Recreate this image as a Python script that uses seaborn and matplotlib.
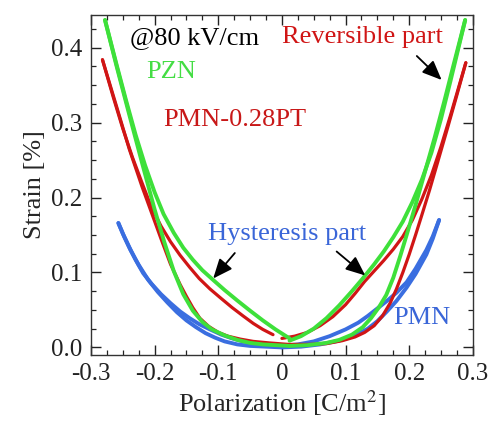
import numpy as np
import pandas as pd
import matplotlib
matplotlib.use("Agg")
import matplotlib.pyplot as plt
import seaborn as sns

# ---------------- data ----------------
# PZN (green)
pzn_outer_left_P = [-0.278, -0.26, -0.245, -0.23, -0.215, -0.20, -0.186, -0.17, -0.155, -0.14, -0.125,
                    -0.108, -0.09, -0.07, -0.05, -0.03, -0.01, 0.012]
pzn_outer_left_S = [0.437, 0.378, 0.330, 0.284, 0.243, 0.207, 0.178, 0.153, 0.133, 0.117, 0.103,
                    0.090, 0.0765, 0.0625, 0.049, 0.036, 0.024, 0.012]
pzn_inner_left_P = [-0.278, -0.26, -0.24, -0.22, -0.20, -0.185, -0.17, -0.155, -0.14, -0.125, -0.11,
                    -0.09, -0.07, -0.05, -0.03, -0.01, 0.012]
pzn_inner_left_S = [0.437, 0.376, 0.311, 0.247, 0.184, 0.141, 0.102, 0.071, 0.049, 0.034, 0.024,
                    0.016, 0.010, 0.006, 0.004, 0.003, 0.002]
pzn_outer_right_P = [0.012, 0.03, 0.05, 0.07, 0.09, 0.11, 0.127, 0.145, 0.16, 0.175, 0.19, 0.205,
                     0.22, 0.235, 0.25, 0.265, 0.288]
pzn_outer_right_S = [0.009, 0.015, 0.025, 0.039, 0.056, 0.075, 0.092, 0.111, 0.128, 0.147, 0.168, 0.194,
                     0.224, 0.260, 0.305, 0.356, 0.437]
pzn_inner_right_P = [0.012, 0.04, 0.07, 0.09, 0.11, 0.127, 0.14, 0.152, 0.164, 0.175, 0.186, 0.196,
                     0.21, 0.225, 0.24, 0.255, 0.27, 0.288]
pzn_inner_right_S = [0.002, 0.003, 0.006, 0.010, 0.017, 0.027, 0.039, 0.053, 0.070, 0.093, 0.122, 0.150,
                     0.190, 0.235, 0.280, 0.328, 0.378, 0.437]

# PMN-0.28PT (red)
pmnpt_outer_left_P = [-0.282, -0.265, -0.25, -0.235, -0.22, -0.205, -0.19, -0.175, -0.16, -0.145, -0.13,
                      -0.113, -0.095, -0.078, -0.061, -0.045, -0.03, -0.014]
pmnpt_outer_left_S = [0.384, 0.334, 0.292, 0.254, 0.220, 0.187, 0.162, 0.141, 0.123, 0.107, 0.092,
                      0.078, 0.065, 0.053, 0.042, 0.032, 0.024, 0.017]
pmnpt_inner_left_P = [-0.282, -0.26, -0.24, -0.22, -0.205, -0.19, -0.175, -0.16, -0.15, -0.14, -0.129,
                      -0.115, -0.10, -0.085, -0.065, -0.045, -0.02, 0.01]
pmnpt_inner_left_S = [0.384, 0.322, 0.265, 0.215, 0.180, 0.145, 0.111, 0.084, 0.068, 0.053, 0.039,
                      0.028, 0.020, 0.015, 0.011, 0.008, 0.006, 0.004]
pmnpt_outer_right_P = [0.0, 0.02, 0.04, 0.06, 0.08, 0.10, 0.115, 0.13, 0.145, 0.16, 0.175, 0.19,
                       0.205, 0.22, 0.235, 0.25, 0.265, 0.289]
pmnpt_outer_right_S = [0.012, 0.015, 0.020, 0.029, 0.041, 0.057, 0.072, 0.088, 0.102, 0.116, 0.131, 0.148,
                       0.170, 0.198, 0.230, 0.268, 0.310, 0.380]
pmnpt_inner_right_P = [0.01, 0.04, 0.07, 0.095, 0.115, 0.13, 0.145, 0.158, 0.17, 0.18, 0.19, 0.20,
                       0.21, 0.22, 0.232, 0.245, 0.26, 0.275, 0.289]
pmnpt_inner_right_S = [0.004, 0.004, 0.005, 0.009, 0.014, 0.020, 0.029, 0.042, 0.059, 0.078, 0.100, 0.124,
                       0.150, 0.177, 0.210, 0.248, 0.292, 0.337, 0.380]

# PMN (blue)
pmn_left_a_P = [-0.257, -0.25, -0.24, -0.23, -0.218, -0.205, -0.19, -0.175, -0.16, -0.145, -0.13,
                -0.113, -0.095, -0.078, -0.061, -0.04, -0.02, 0.0, 0.02]
pmn_left_a_S = [0.166, 0.152, 0.134, 0.117, 0.099, 0.085, 0.071, 0.059, 0.048, 0.039, 0.031,
                0.024, 0.017, 0.012, 0.008, 0.005, 0.003, 0.002, 0.003]
pmn_left_b_P = [-0.257, -0.248, -0.238, -0.225, -0.21, -0.195, -0.18, -0.165, -0.15, -0.135, -0.12,
                -0.105, -0.09, -0.07, -0.05, -0.025, 0.0]
pmn_left_b_S = [0.166, 0.148, 0.130, 0.110, 0.090, 0.074, 0.060, 0.047, 0.036, 0.027, 0.019,
                0.013, 0.008, 0.004, 0.002, 0.001, 0.000]
pmn_right_a_P = [0.0, 0.025, 0.05, 0.075, 0.10, 0.12, 0.135, 0.15, 0.165, 0.18, 0.196, 0.21,
                 0.227, 0.237, 0.247]
pmn_right_a_S = [0.002, 0.004, 0.008, 0.015, 0.024, 0.033, 0.042, 0.052, 0.062, 0.073, 0.087, 0.105,
                 0.130, 0.148, 0.170]
pmn_right_b_P = [0.0, 0.03, 0.06, 0.09, 0.115, 0.135, 0.15, 0.165, 0.18, 0.196, 0.21, 0.227,
                 0.237, 0.247]
pmn_right_b_S = [0.000, 0.001, 0.004, 0.009, 0.016, 0.025, 0.035, 0.048, 0.062, 0.080, 0.098, 0.124,
                 0.145, 0.170]

x_ticks = [-0.3, -0.2, -0.1, 0.0, 0.1, 0.2, 0.3]
x_tick_labels = ["-0.3", "-0.2", "-0.1", "0", "0.1", "0.2", "0.3"]
y_ticks = [0.0, 0.1, 0.2, 0.3, 0.4]
y_tick_labels = ["0.0", "0.1", "0.2", "0.3", "0.4"]

# ---------------- build table ----------------
branches = {
    "PMN": [(pmn_left_a_P, pmn_left_a_S), (pmn_left_b_P, pmn_left_b_S),
            (pmn_right_a_P, pmn_right_a_S), (pmn_right_b_P, pmn_right_b_S)],
    "PMN-0.28PT": [(pmnpt_outer_left_P, pmnpt_outer_left_S), (pmnpt_inner_left_P, pmnpt_inner_left_S),
                   (pmnpt_outer_right_P, pmnpt_outer_right_S), (pmnpt_inner_right_P, pmnpt_inner_right_S)],
    "PZN": [(pzn_outer_left_P, pzn_outer_left_S), (pzn_inner_left_P, pzn_inner_left_S),
            (pzn_outer_right_P, pzn_outer_right_S), (pzn_inner_right_P, pzn_inner_right_S)],
}
rows = []
for mat, brs in branches.items():
    for i, (P, S) in enumerate(brs):
        for p, s in zip(P, S):
            rows.append({"P": p, "S": s, "material": mat, "branch": f"{mat}_{i}"})
df = pd.DataFrame(rows)

colors = {"PMN": "#3a6ee0", "PMN-0.28PT": "#d01515", "PZN": "#3ee03a"}
widths = {"PMN": 2.8, "PMN-0.28PT": 2.3, "PZN": 2.8}

# ---------------- plot ----------------
sns.set_style("ticks")
plt.rcParams["font.family"] = ["Liberation Serif", "DejaVu Serif"]
plt.rcParams["axes.unicode_minus"] = False
plt.rcParams["mathtext.fontset"] = "stix"

fig = plt.figure(figsize=(4.92, 4.23), dpi=100)
ax = fig.add_axes([0.185, 0.161, 0.776, 0.804])

for mat in ["PMN", "PMN-0.28PT", "PZN"]:
    sub = df[df["material"] == mat]
    sns.lineplot(data=sub, x="P", y="S", units="branch", estimator=None, sort=False,
                 color=colors[mat], linewidth=widths[mat], ax=ax, legend=False)
for line in ax.get_lines():
    line.set_solid_joinstyle("round")
    line.set_solid_capstyle("round")

ax.set_xlim(-0.3, 0.3)
ax.set_ylim(-0.01, 0.444)
ax.set_xticks(x_ticks)
ax.set_xticklabels(x_tick_labels)
ax.set_yticks(y_ticks)
ax.set_yticklabels(y_tick_labels)
ax.set_xticks(np.arange(-0.3, 0.3001, 0.025), minor=True)
ax.set_yticks(np.arange(0.0, 0.4401, 0.025), minor=True)
ax.tick_params(which="both", direction="in", top=True, right=True, colors="#222222")
ax.tick_params(which="major", length=7, width=1.0, labelsize=18, pad=6)
ax.tick_params(which="minor", length=3.5, width=0.9)
for sp in ax.spines.values():
    sp.set_linewidth(1.0)
    sp.set_color("#333333")

ax.set_xlabel(r"Polarization [C/m$^2$]", fontsize=19, labelpad=2)
ax.set_ylabel("Strain [%]", fontsize=19, labelpad=4)

fs = 19
ax.text(-0.239, 0.405, "@80 kV/cm", color="black", fontsize=fs)
ax.text(0.0, 0.407, "Reversible part", color="#d01515", fontsize=fs)
ax.text(-0.2125, 0.360, "PZN", color="#44dd44", fontsize=fs)
ax.text(-0.186, 0.295, "PMN-0.28PT", color="#c81818", fontsize=fs)
ax.text(-0.116, 0.144, "Hysteresis part", color="#3a66d8", fontsize=fs)
ax.text(0.175, 0.031, "PMN", color="#3a66d8", fontsize=fs)

arrow_kw = dict(arrowstyle="-|>,head_length=0.85,head_width=0.36", color="black", lw=1.3,
                shrinkA=0, shrinkB=0, mutation_scale=14)
ax.annotate("", xy=(0.251, 0.357), xytext=(0.212, 0.389), arrowprops=arrow_kw)
ax.annotate("", xy=(-0.108, 0.092), xytext=(-0.074, 0.126), arrowprops=arrow_kw)
ax.annotate("", xy=(0.131, 0.096), xytext=(0.086, 0.128), arrowprops=arrow_kw)

fig.savefig("out.png", dpi=100)
